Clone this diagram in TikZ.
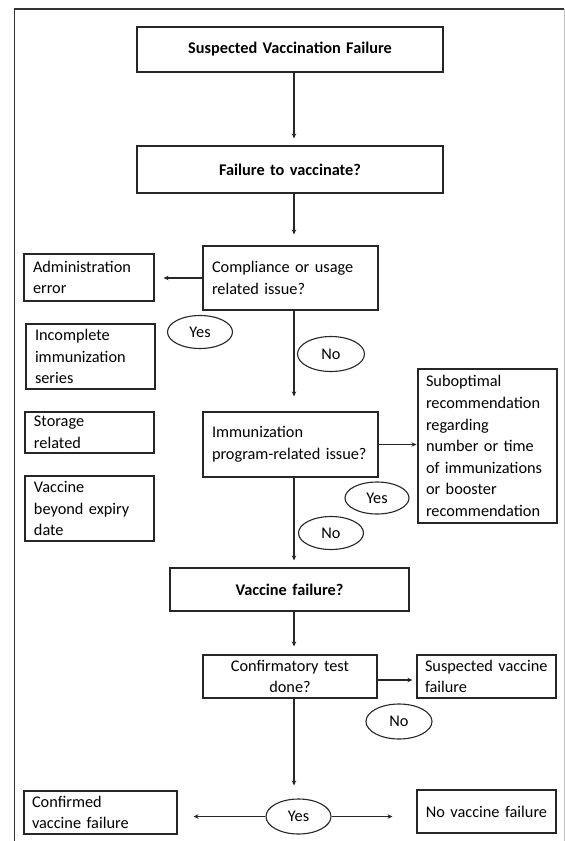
\documentclass[tikz,border=0pt]{standalone}
\usepackage{fontspec}
\setmainfont{Carlito}
\usetikzlibrary{shapes.geometric,arrows.meta}
\hyphenpenalty=10000
\exhyphenpenalty=10000
\begin{document}
\begin{tikzpicture}[x=1pt,y=-1pt,
  txt/.style={font=\fontsize{16.3}{21.6}\selectfont},
  box/.style={draw=black!85, line width=1.1pt, txt, inner xsep=9pt, inner ysep=1pt, align=left},
  cbox/.style={box, align=center, font=\fontsize{16.3}{21.6}\selectfont\bfseries},
  oval/.style={draw=black!85, line width=1.1pt, ellipse, inner sep=0pt, txt},
  arr/.style={draw=black!85, line width=1.1pt, -{Stealth[length=5pt,width=4.5pt]}},
  ln/.style={draw=black!85, line width=1.1pt}]
\useasboundingbox (0,0) rectangle (565,841);
% frame
\draw[line width=1.3pt, black!80] (14.5,841) -- (14.5,9) -- (564,9);
\draw[line width=1pt, black!25] (564,9) -- (564,841);

\coordinate (col) at (294,0);
\coordinate (cy) at (0,680);

\node[cbox, text width=288pt, minimum height=45pt] (top) at (290,49.5) {Suspected Vaccination Failure};
\node[cbox, text width=288pt, minimum height=47pt] (ftv) at (290,169.5) {Failure to vaccinate?};
\node[box, text width=157pt, minimum height=64pt] (comp) at (290.5,278) {Compliance or usage\\related issue?};
\node[box, text width=112pt, minimum height=47pt] (admin) at (89,277.5) {Administration\\error};
\node[box, text width=111pt, minimum height=65pt, inner ysep=0pt] (incomp) at (90.5,356.5) {Incomplete\\immunization\\series};
\node[box, text width=111pt, minimum height=41pt, inner ysep=0pt] (storage) at (89.5,432.5) {Storage\\related};
\node[box, text width=111pt, minimum height=65pt, inner ysep=0pt] (expiry) at (89.5,508.5) {Vaccine\\beyond expiry\\date};
\node[box, text width=157pt, minimum height=65pt] (immun) at (290.5,444.5) {Immunization\\program-related issue?};
\node[box, inner xsep=8pt, text width=123pt, minimum height=154pt] (subopt) at (487.5,446) {Suboptimal\\recommendation\\regarding\\number or time\\of immunizations\\or booster\\recommendation};
\node[cbox, text width=221pt, minimum height=43pt] (vf) at (289.5,589.5) {Vaccine failure?};
\node[box, align=center, text width=156pt, minimum height=43pt, inner ysep=0pt] (conf) at (290,676.5) {Confirmatory test\\done?};
\node[box, inner xsep=8pt, text width=123pt, minimum height=43pt, inner ysep=0pt] (svf) at (486.5,676.5) {Suspected vaccine\\failure};
\node[box, inner xsep=8pt, text width=137pt, minimum height=43pt, inner ysep=0pt] (confirmed) at (100.5,812.5) {Confirmed\\vaccine failure};
\node[box, inner xsep=4pt, text width=131pt, align=center, minimum height=43pt] (nvf) at (486.5,811.5) {No vaccine failure};

\node[oval, minimum width=65pt, minimum height=33pt] (yes1) at (200,332) {Yes};
\node[oval, minimum width=67pt, minimum height=35pt] (no1) at (331,354) {No};
\node[oval, minimum width=64pt, minimum height=32pt] (yes2) at (377,498) {Yes};
\node[oval, minimum width=65pt, minimum height=33pt] (no2) at (331,533) {No};
\node[oval, minimum width=66pt, minimum height=35pt] (no3) at (399,721.5) {No};
\node[oval, minimum width=65pt, minimum height=35pt] (yes3) at (298.5,816.5) {Yes};

\draw[arr, shorten >=7pt] (top.south -| col) -- (ftv.north -| col);
\draw[arr, shorten >=11pt] (ftv.south -| col) -- (comp.north -| col);
\draw[arr, shorten >=9pt] (comp.west) -- (admin.east |- comp.west);
\draw[arr, shorten >=15pt] (comp.south -| col) -- (immun.north -| col);
\draw[arr, shorten >=1pt] (immun.east) -- (subopt.west |- immun.east);
\draw[arr, shorten >=7pt] (immun.south -| col) -- (vf.north -| col);
\draw[arr, shorten >=8pt] (vf.south -| col) -- (conf.north -| col);
\draw[arr, shorten >=4pt] (conf.east |- cy) -- (svf.west |- cy);
\draw[arr, shorten >=13pt] (conf.south -| col) -- (yes3.north -| col);
\draw[arr, shorten >=16pt] (yes3.west) -- (confirmed.east |- yes3.west);
\draw[arr, shorten >=24pt] (yes3.east) -- (nvf.west |- yes3.east);
\end{tikzpicture}
\end{document}
